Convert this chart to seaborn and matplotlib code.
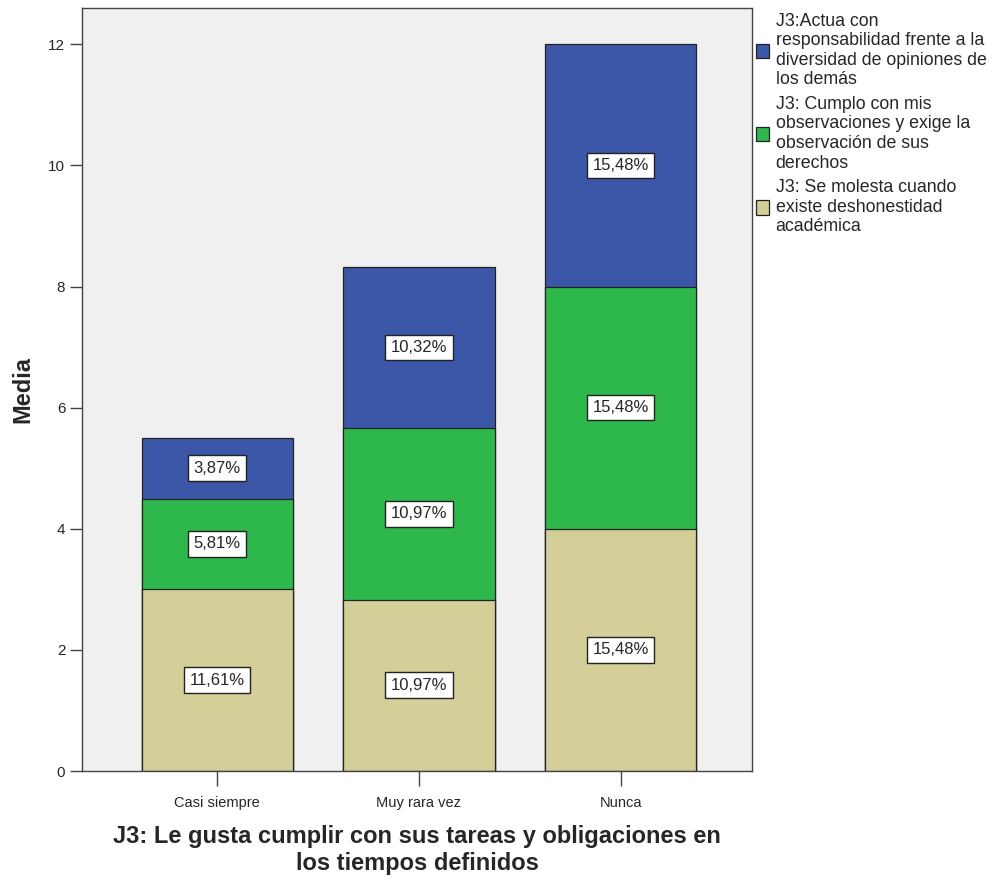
import numpy as np
import pandas as pd
import matplotlib
matplotlib.use("Agg")
import matplotlib.pyplot as plt
import seaborn as sns

categories = ["Casi siempre", "Muy rara vez", "Nunca"]
series = [
    "J3: Se molesta cuando\nexiste deshonestidad\nacadémica",
    "J3: Cumplo con mis\nobservaciones y exige la\nobservación de sus\nderechos",
    "J3:Actua con\nresponsabilidad frente a la\ndiversidad de opiniones de\nlos demás",
]
beige_vals = [3.0, 2.83, 4.0]
green_vals = [1.5, 2.83, 4.0]
blue_vals = [1.0, 2.67, 4.0]
beige_pct = ["11,61%", "10,97%", "15,48%"]
green_pct = ["5,81%", "10,97%", "15,48%"]
blue_pct = ["3,87%", "10,32%", "15,48%"]
colors = ["#D4CE98", "#2EB84B", "#3C56A8"]

sns.set_style("white")
plt.rcParams["font.family"] = ["Liberation Sans", "DejaVu Sans"]

layers = np.array([beige_vals, green_vals, blue_vals])
cum = np.cumsum(layers, axis=0)
pcts = [beige_pct, green_pct, blue_pct]

fig = plt.figure(figsize=(9.96, 8.84), dpi=100)
ax = fig.add_axes([0.0823, 0.1278, 0.6727, 0.8632])
ax.set_facecolor("#F0F0F0")

# draw tallest layer first so lower layers sit on top
for i in [2, 1, 0]:
    df = pd.DataFrame({"cat": categories, "val": cum[i]})
    sns.barplot(data=df, x="cat", y="val", color=colors[i], saturation=1,
                width=0.75, edgecolor="#222222", linewidth=0.9, ax=ax,
                label=series[i])

for i in range(3):
    for j in range(3):
        mid = cum[i][j] - layers[i][j] / 2
        ax.text(j, mid, pcts[i][j], ha="center", va="center", fontsize=12,
                bbox=dict(boxstyle="square,pad=0.32", fc="white", ec="#222222", lw=1))

ax.set_xlim(-0.67, 2.65)
ax.set_ylim(0, 12.6)
ax.set_yticks([0, 2, 4, 6, 8, 10, 12])
ax.tick_params(axis="y", direction="out", length=9, width=1, color="#444444",
               labelsize=11, left=True, pad=3)
ax.tick_params(axis="x", direction="out", length=11, width=1, color="#444444",
               labelsize=10.5, bottom=True, pad=7)
for s in ax.spines.values():
    s.set_color("#444444")
    s.set_linewidth(1)

ax.set_ylabel("Media", fontsize=17, fontweight="bold", labelpad=10)
ax.set_xlabel("J3: Le gusta cumplir con sus tareas y obligaciones en\nlos tiempos definidos",
              fontsize=17, fontweight="bold", labelpad=11, linespacing=1.2)

handles, labels = ax.get_legend_handles_labels()
leg = ax.legend(handles, labels, loc="upper left", bbox_to_anchor=(0.99, 1.008),
                frameon=False, fontsize=12.8, handlelength=0.75, handleheight=0.85,
                handletextpad=0.35, labelspacing=0.42, borderaxespad=0.2)
for t in leg.get_texts():
    t.set_linespacing(1.2)

fig.savefig("out.png", dpi=100)
